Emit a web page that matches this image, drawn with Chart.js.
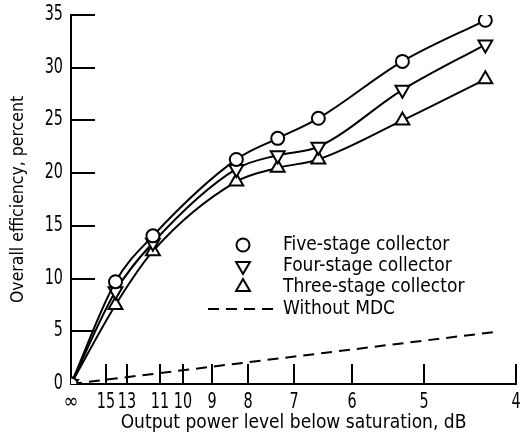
<!DOCTYPE html>
<html>
<head>
<meta charset="utf-8">
<script src="https://cdn.jsdelivr.net/npm/chart.js@4.4.1/dist/chart.umd.min.js"></script>
<style>
  html, body { margin: 0; padding: 0; background: #fff; }
  #wrap { width: 526px; height: 435px; }
</style>
</head>
<body>
<div id="wrap"><canvas id="grafica" width="526" height="435"></canvas></div>
<script>
// Valores (nivel de potencia en dB bajo saturacion)
const dbPuntos = [Infinity, 14.0, 11.35, 8.3, 7.33, 6.55, 5.28, 4.31];
const cincoEtapas = [0, 9.7, 14.05, 21.3, 23.3, 25.2, 30.6, 34.5];
const cuatroEtapas = [0, 8.8, 13.4, 20.4, 21.7, 22.5, 27.9, 32.2];
const tresEtapas = [0, 7.5, 12.6, 19.2, 20.5, 21.3, 25.0, 28.9];
const sinMdcDb = [Infinity, 4.2];
const sinMdc = [0, 4.95];

// Etiquetas de los ejes
const ticksDb = [Infinity, 15, 13, 11, 10, 9, 8, 7, 6, 5, 4];
const ticksTexto = ['\u221E', '15', '13', '11', '10', '9', '8', '7', '6', '5', '4'];
const ticksY = [0, 5, 10, 15, 20, 25, 30, 35];

const etiquetas = ['Five-stage collector', 'Four-stage collector', 'Three-stage collector', 'Without MDC'];

// la escala es lineal en potencia relativa
const aRazon = db => Math.pow(10, -db / 10);

const puntos = (xs, ys) => xs.map((d, i) => ({x: aRazon(d), y: ys[i]}));

const familia = '"DejaVu Sans Condensed", "DejaVu Sans", sans-serif';
const fuenteTitulo = {family: familia, size: 19};

function serie(label, ys, estilo, rot, radio) {
    return {
        label: label,
        data: puntos(dbPuntos, ys),
        borderColor: '#000',
        borderWidth: 2,
        pointStyle: estilo,
        rotation: rot,
        pointRadius: radio,
        pointBorderWidth: 2,
        pointBackgroundColor: '#fff',
        pointBorderColor: '#000',
        cubicInterpolationMode: 'monotone',
        fill: false
    };
}

// texto angosto (la figura usa una letra condensada)
function textoAngosto(ctx, t, x, y, align, factor) {
    ctx.font = '21px ' + familia;
    ctx.textAlign = align;
    ctx.textBaseline = 'middle';
    ctx.fillStyle = '#000';
    const w = ctx.measureText(t).width * factor;
    ctx.fillText(t, x, y, w);
}

// ticks hacia adentro, etiquetas y leyenda dibujadas a mano
const extras = {
    id: 'extras',
    afterDraw(chart) {
        const ctx = chart.ctx;
        const xs = chart.scales.x, ys = chart.scales.y;
        const area = chart.chartArea;
        ctx.save();
        ctx.strokeStyle = '#000';
        ctx.lineWidth = 2;
        ticksY.forEach(v => {
            const py = Math.round(ys.getPixelForValue(v));
            textoAngosto(ctx, String(v), area.left - 8, py, 'right', 0.76);
            if (v === 0) return;
            ctx.beginPath();
            ctx.moveTo(area.left, py);
            ctx.lineTo(area.left + 24, py);
            ctx.stroke();
        });
        ticksDb.forEach((d, i) => {
            const px = Math.round(xs.getPixelForValue(aRazon(d)));
            const f = d === Infinity ? 0.95 : 0.76;
            textoAngosto(ctx, ticksTexto[i], px, area.bottom + 19, 'center', f);
            if (d === Infinity) return;
            ctx.beginPath();
            ctx.moveTo(px, area.bottom);
            ctx.lineTo(px, area.bottom - 20);
            ctx.stroke();
        });

        // leyenda
        const lx = 243, tx = 283;
        const filas = [245, 266, 287, 309];
        const estilos = [['circle', 0, 6.5], ['triangle', 180, 8], ['triangle', 0, 8]];
        estilos.forEach((e, i) => {
            ctx.lineWidth = 2;
            ctx.strokeStyle = '#000';
            ctx.fillStyle = '#fff';
            Chart.helpers.drawPoint(ctx, {pointStyle: e[0], rotation: e[1], radius: e[2], borderWidth: 2}, lx, filas[i]);
        });
        ctx.setLineDash([11, 7]);
        ctx.beginPath();
        ctx.moveTo(208, filas[3]);
        ctx.lineTo(278, filas[3]);
        ctx.stroke();
        ctx.setLineDash([]);
        ctx.fillStyle = '#000';
        ctx.font = fuenteTitulo.size + 'px ' + familia;
        ctx.textAlign = 'left';
        ctx.textBaseline = 'middle';
        etiquetas.forEach((t, i) => ctx.fillText(t, tx, filas[i]));
        ctx.restore();
    }
};

const config = {
    type: 'line',
    data: {
        datasets: [
            Object.assign(serie(etiquetas[0], cincoEtapas, 'circle', 0, 6.5), {order: 1}),
            Object.assign(serie(etiquetas[1], cuatroEtapas, 'triangle', 180, 8), {order: 2}),
            Object.assign(serie(etiquetas[2], tresEtapas, 'triangle', 0, 8), {order: 3}),
            {
                label: etiquetas[3],
                data: puntos(sinMdcDb, sinMdc),
                borderColor: '#000',
                borderWidth: 2,
                borderDash: [11, 7],
                pointRadius: 0,
                fill: false,
                order: 4
            }
        ]
    },
    options: {
        responsive: false,
        animation: false,
        layout: {padding: {top: 15, right: 4, left: 0, bottom: 0}},
        plugins: {legend: {display: false}, tooltip: {enabled: false}},
        scales: {
            x: {
                type: 'linear',
                min: 0,
                max: aRazon(4),
                afterBuildTicks: s => { s.ticks = ticksDb.map(d => ({value: aRazon(d)})); },
                afterFit: s => { s.height = 51; s.paddingLeft = 0; s.paddingRight = 0; },
                ticks: {display: false},
                grid: {display: true, drawOnChartArea: false, drawTicks: false},
                border: {display: true, color: '#000', width: 2},
                title: {
                    display: true,
                    text: 'Output power level below saturation, dB',
                    color: '#000',
                    font: fuenteTitulo,
                    padding: {top: 0, bottom: 1}
                }
            },
            y: {
                type: 'linear',
                min: 0,
                max: 35,
                afterBuildTicks: s => { s.ticks = ticksY.map(v => ({value: v})); },
                afterFit: s => { s.width = 71; s.paddingTop = 0; s.paddingBottom = 0; },
                ticks: {display: false},
                grid: {display: true, drawOnChartArea: false, drawTicks: false},
                border: {display: true, color: '#000', width: 2},
                title: {
                    display: true,
                    text: 'Overall efficiency, percent',
                    color: '#000',
                    font: {family: familia, size: 17.5},
                    padding: {top: 8, bottom: 0}
                }
            }
        }
    },
    plugins: [extras]
};

new Chart(document.getElementById('grafica'), config);
</script>
</body>
</html>
